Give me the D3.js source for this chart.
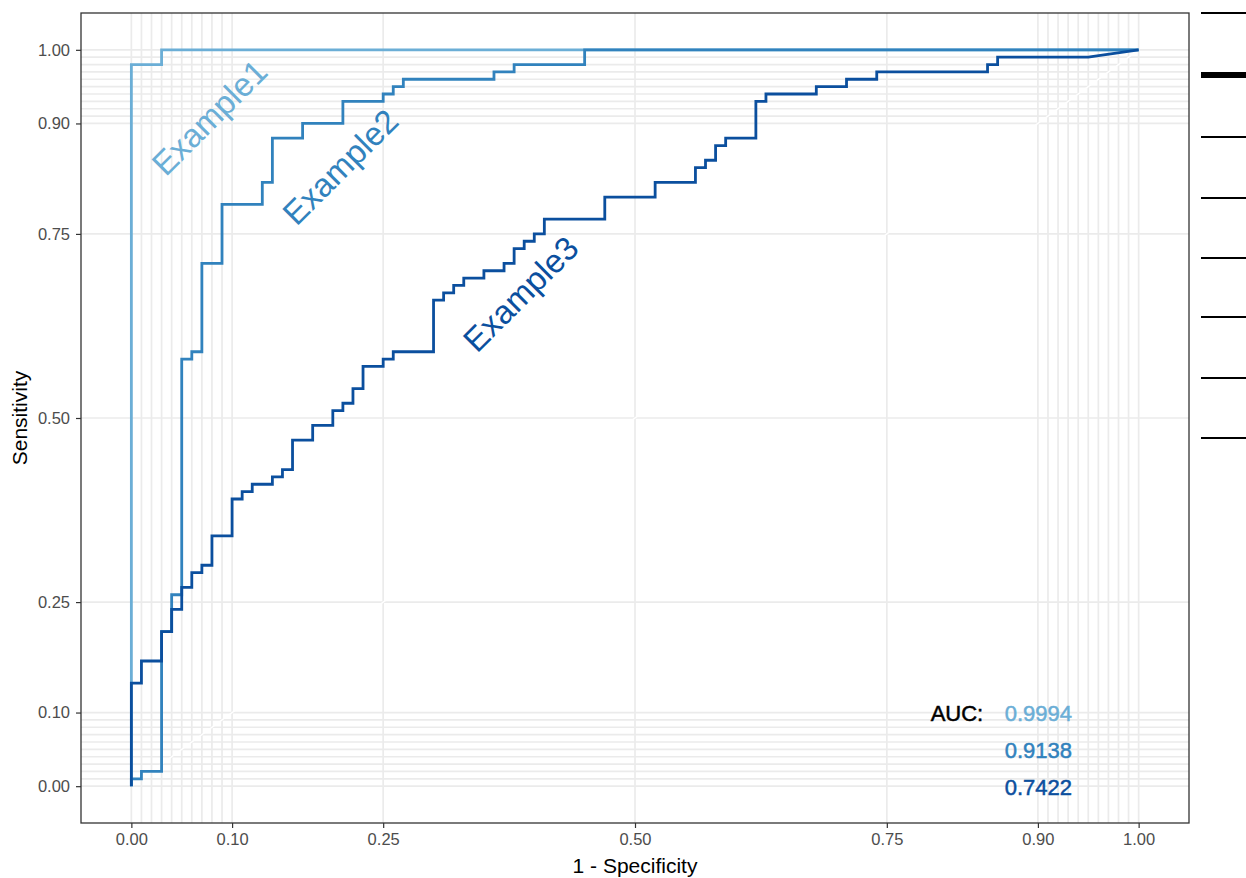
<!DOCTYPE html>
<html>
<head>
<meta charset="utf-8">
<script src="https://cdn.jsdelivr.net/npm/d3@7"></script>
<style>
  html, body { margin: 0; padding: 0; background: #ffffff; }
  svg { display: block; }
  text { font-family: "Liberation Sans", Arial, Helvetica, sans-serif; }
</style>
</head>
<body>
<svg id="chart" width="1246" height="878"></svg>
<script>
// ROC vertices (1 - specificity, sensitivity) for each example
const example1Roc = [[0,0],[0,0.98],[0.03,0.98],[0.03,1],[1,1]];

const example2Roc = [
  [0,0],[0,0.01],[0.01,0.01],[0.01,0.02],[0.03,0.02],[0.03,0.21],[0.04,0.21],[0.04,0.26],
  [0.05,0.26],[0.05,0.58],[0.06,0.58],[0.06,0.59],[0.07,0.59],[0.07,0.71],[0.09,0.71],[0.09,0.79],
  [0.13,0.79],[0.13,0.82],[0.14,0.82],[0.14,0.88],[0.17,0.88],[0.17,0.90],[0.21,0.90],[0.21,0.93],
  [0.25,0.93],[0.25,0.94],[0.26,0.94],[0.26,0.95],[0.27,0.95],[0.27,0.96],[0.36,0.96],[0.36,0.97],
  [0.38,0.97],[0.38,0.98],[0.45,0.98],[0.45,1],[1,1]
];

const example3Roc = [
  [0,0],[0,0.14],[0.01,0.14],[0.01,0.17],[0.03,0.17],[0.03,0.21],[0.04,0.21],[0.04,0.24],
  [0.05,0.24],[0.05,0.27],[0.06,0.27],[0.06,0.29],[0.07,0.29],[0.07,0.30],[0.08,0.30],[0.08,0.34],
  [0.10,0.34],[0.10,0.39],[0.11,0.39],[0.11,0.40],[0.12,0.40],[0.12,0.41],[0.14,0.41],[0.14,0.42],
  [0.15,0.42],[0.15,0.43],[0.16,0.43],[0.16,0.47],[0.18,0.47],[0.18,0.49],[0.20,0.49],[0.20,0.51],
  [0.21,0.51],[0.21,0.52],[0.22,0.52],[0.22,0.54],[0.23,0.54],[0.23,0.57],[0.25,0.57],[0.25,0.58],
  [0.26,0.58],[0.26,0.59],[0.30,0.59],[0.30,0.66],[0.31,0.66],[0.31,0.67],[0.32,0.67],[0.32,0.68],
  [0.33,0.68],[0.33,0.69],[0.35,0.69],[0.35,0.70],[0.37,0.70],[0.37,0.71],[0.38,0.71],[0.38,0.73],
  [0.39,0.73],[0.39,0.74],[0.40,0.74],[0.40,0.75],[0.41,0.75],[0.41,0.77],[0.47,0.77],[0.47,0.80],
  [0.52,0.80],[0.52,0.82],[0.56,0.82],[0.56,0.84],[0.57,0.84],[0.57,0.85],[0.58,0.85],[0.58,0.87],
  [0.59,0.87],[0.59,0.88],[0.62,0.88],[0.62,0.93],[0.63,0.93],[0.63,0.94],[0.68,0.94],[0.68,0.95],
  [0.71,0.95],[0.71,0.96],[0.74,0.96],[0.74,0.97],[0.85,0.97],[0.85,0.98],[0.86,0.98],[0.86,0.99],
  [0.95,0.99],[1,1]
];

const seriesNames = ["Example1", "Example2", "Example3"];
const seriesColors = ["#6baed6", "#3182bd", "#0b4f9e"];
const aucValues = ["0.9994", "0.9138", "0.7422"];

const majorBreaks = [0, 0.1, 0.25, 0.5, 0.75, 0.9, 1];
const tickLabels = ["0.00", "0.10", "0.25", "0.50", "0.75", "0.90", "1.00"];
const minorBreaks = d3.range(0, 11).map(i => i / 100).concat(d3.range(90, 101).map(i => i / 100));

// ---- layout ----
const svg = d3.select("#chart");
const W = 1246, H = 878;
const panel = { left: 81, right: 1189, top: 13, bottom: 823 };

svg.append("rect").attr("width", W).attr("height", H).attr("fill", "#ffffff");

const x = d3.scaleLinear().domain([-0.05, 1.05]).range([panel.left, panel.right]);
const y = d3.scaleLinear().domain([-0.05, 1.05]).range([panel.bottom, panel.top]);

// grid
const grid = svg.append("g").attr("class", "grid");
const gridVals = Array.from(new Set(minorBreaks.concat(majorBreaks)));
grid.selectAll("line.gx").data(gridVals).join("line")
  .attr("x1", d => x(d)).attr("x2", d => x(d))
  .attr("y1", panel.top).attr("y2", panel.bottom)
  .attr("stroke", "#ebebeb").attr("stroke-width", 1.7);
grid.selectAll("line.gy").data(gridVals).join("line")
  .attr("y1", d => y(d)).attr("y2", d => y(d))
  .attr("x1", panel.left).attr("x2", panel.right)
  .attr("stroke", "#ebebeb").attr("stroke-width", 1.7);

// faint chance diagonal
svg.append("line")
  .attr("x1", x(0)).attr("y1", y(0)).attr("x2", x(1)).attr("y2", y(1))
  .attr("stroke", "#ffffff").attr("stroke-width", 1.4);

// ROC curves
const line = d3.line().x(d => x(d[0])).y(d => y(d[1])).curve(d3.curveLinear);
const rocs = [example1Roc, example2Roc, example3Roc];
svg.append("g").selectAll("path").data(rocs).join("path")
  .attr("d", line)
  .attr("fill", "none")
  .attr("stroke", (d, i) => seriesColors[i])
  .attr("stroke-width", 2.8)
  .attr("stroke-linejoin", "miter");

// direct labels along the curves
const labelAnchors = [[0.0775, 0.908], [0.2075, 0.841], [0.3865, 0.6685]];
svg.append("g").selectAll("text").data(seriesNames).join("text")
  .attr("transform", (d, i) => `translate(${x(labelAnchors[i][0])},${y(labelAnchors[i][1])}) rotate(-45)`)
  .attr("text-anchor", "middle")
  .attr("dominant-baseline", "central")
  .attr("font-size", 33)
  .attr("fill", (d, i) => seriesColors[i])
  .text(d => d);

// AUC annotation
const aucG = svg.append("g").attr("font-size", 22);
aucG.append("text")
  .attr("x", x(0.7935)).attr("y", y(0.088))
  .attr("fill", "#000").attr("stroke", "#000").attr("stroke-width", 0.5)
  .text("AUC:");
aucG.selectAll("text.auc").data(aucValues).join("text")
  .attr("class", "auc")
  .attr("x", x(0.867))
  .attr("y", (d, i) => y(0.088) + i * 36.8)
  .attr("fill", (d, i) => seriesColors[i])
  .attr("stroke", (d, i) => seriesColors[i]).attr("stroke-width", 0.5)
  .text(d => d);

// panel border
svg.append("rect")
  .attr("x", panel.left).attr("y", panel.top)
  .attr("width", panel.right - panel.left).attr("height", panel.bottom - panel.top)
  .attr("fill", "none").attr("stroke", "#333333").attr("stroke-width", 1.3);

// axes
const xAxis = d3.axisBottom(x).tickValues(majorBreaks)
  .tickFormat((d, i) => tickLabels[i]).tickSize(5).tickPadding(5);
const yAxis = d3.axisLeft(y).tickValues(majorBreaks)
  .tickFormat((d, i) => tickLabels[i]).tickSize(5).tickPadding(6);

const gx = svg.append("g").attr("transform", `translate(0,${panel.bottom})`).call(xAxis);
const gy = svg.append("g").attr("transform", `translate(${panel.left},0)`).call(yAxis);
[gx, gy].forEach(g => {
  g.select(".domain").remove();
  g.selectAll(".tick line").attr("stroke", "#333333").attr("stroke-width", 1.2);
  g.selectAll(".tick text").attr("fill", "#4d4d4d").attr("font-size", 16.5)
    .attr("font-family", "'Liberation Sans', Arial, sans-serif");
});

// axis titles
svg.append("text")
  .attr("x", (panel.left + panel.right) / 2).attr("y", 873)
  .attr("text-anchor", "middle").attr("font-size", 21).attr("fill", "#000")
  .text("1 - Specificity");
svg.append("text")
  .attr("transform", `translate(27,${(panel.top + panel.bottom) / 2}) rotate(-90)`)
  .attr("text-anchor", "middle").attr("font-size", 21).attr("fill", "#000")
  .text("Sensitivity");

// rules along the right edge
const edgeRules = [{ y: 13, w: 2 }, { y: 75, w: 6 }, { y: 137, w: 2 }, { y: 198, w: 2 },
                   { y: 258, w: 2 }, { y: 317, w: 2 }, { y: 378, w: 2 }, { y: 438, w: 2 }];
svg.append("g").selectAll("line").data(edgeRules).join("line")
  .attr("x1", 1201).attr("x2", W)
  .attr("y1", d => d.y).attr("y2", d => d.y)
  .attr("stroke", "#000").attr("stroke-width", d => d.w);
</script>
</body>
</html>
